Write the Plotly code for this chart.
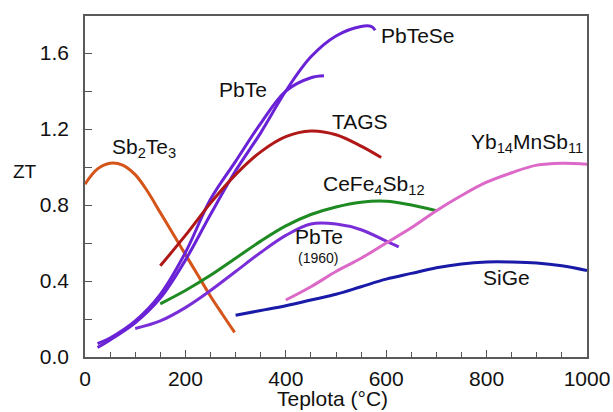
import plotly.graph_objects as go

# ---- data ----
sb2te3_T = [0, 25, 50, 75, 100, 125, 150, 175, 200, 225, 250, 275, 298]
sb2te3_ZT = [0.91, 0.99, 1.02, 1.01, 0.96, 0.87, 0.76, 0.65, 0.54, 0.43, 0.32, 0.22, 0.13]

pbte_T = [25, 50, 100, 150, 200, 250, 300, 350, 400, 450, 476]
pbte_ZT = [0.07, 0.10, 0.19, 0.33, 0.55, 0.83, 1.03, 1.23, 1.40, 1.47, 1.48]

pbtese_T = [25, 50, 100, 150, 200, 250, 300, 350, 400, 450, 500, 550, 570, 578]
pbtese_ZT = [0.05, 0.09, 0.18, 0.31, 0.51, 0.75, 0.98, 1.18, 1.40, 1.58, 1.69, 1.74, 1.74, 1.72]

tags_T = [150, 200, 250, 300, 350, 400, 450, 500, 550, 590]
tags_ZT = [0.48, 0.64, 0.81, 0.96, 1.08, 1.16, 1.19, 1.17, 1.11, 1.05]

cefe_T = [150, 200, 250, 300, 350, 400, 450, 500, 550, 600, 650, 700]
cefe_ZT = [0.28, 0.35, 0.43, 0.52, 0.61, 0.69, 0.75, 0.79, 0.815, 0.82, 0.80, 0.77]

pbte1960_T = [100, 150, 200, 250, 300, 350, 400, 450, 500, 550, 600, 625]
pbte1960_ZT = [0.15, 0.19, 0.26, 0.35, 0.45, 0.55, 0.64, 0.70, 0.70, 0.67, 0.61, 0.58]

yb_T = [400, 450, 500, 550, 600, 650, 700, 750, 800, 850, 900, 950, 1000]
yb_ZT = [0.30, 0.37, 0.45, 0.52, 0.60, 0.68, 0.77, 0.85, 0.92, 0.97, 1.01, 1.02, 1.015]

sige_T = [300, 350, 400, 450, 500, 550, 600, 650, 700, 750, 800, 850, 900, 950, 1000]
sige_ZT = [0.22, 0.245, 0.27, 0.30, 0.33, 0.37, 0.41, 0.44, 0.47, 0.49, 0.50, 0.50, 0.495, 0.48, 0.455]

x_ticks = [0, 200, 400, 600, 800, 1000]
y_ticks = [0.0, 0.4, 0.8, 1.2, 1.6]
y_tick_labels = ["0.0", "0.4", "0.8", "1.2", "1.6"]

PURPLE = "#6a22d6"
series = [
    ("Sb2Te3", sb2te3_T, sb2te3_ZT, "#d4541a"),
    ("PbTeSe", pbtese_T, pbtese_ZT, PURPLE),
    ("PbTe", pbte_T, pbte_ZT, PURPLE),
    ("TAGS", tags_T, tags_ZT, "#b01818"),
    ("CeFe4Sb12", cefe_T, cefe_ZT, "#1e8a22"),
    ("PbTe (1960)", pbte1960_T, pbte1960_ZT, "#7a2ed8"),
    ("Yb14MnSb11", yb_T, yb_ZT, "#dc68c8"),
    ("SiGe", sige_T, sige_ZT, "#1a1aa8"),
]

fig = go.Figure()
for name, xs, ys, col in series:
    fig.add_trace(go.Scatter(x=xs, y=ys, mode="lines", name=name,
                             line=dict(color=col, width=3, shape="spline", smoothing=1.0)))

FONT = "Liberation Sans, Arial, sans-serif"
labels = [
    ("Sb<sub>2</sub>Te<sub>3</sub>", 49, 1.10, 21),
    ("PbTe", 262, 1.41, 21),
    ("PbTeSe", 585, 1.69, 21),
    ("TAGS", 489, 1.242, 21),
    ("CeFe<sub>4</sub>Sb<sub>12</sub>", 471, 0.905, 21),
    ("Yb<sub>14</sub>MnSb<sub>11</sub>", 764, 1.125, 21),
    ("PbTe", 415, 0.634, 21),
    ("(1960)", 421, 0.52, 14),
    ("SiGe", 788, 0.42, 21),
]
for txt, x, y, sz in labels:
    fig.add_annotation(x=x, y=y, text=txt, showarrow=False, xanchor="left", yanchor="middle",
                       font=dict(family=FONT, size=sz, color="#111111"))

fig.add_annotation(x=-0.12, y=0.543, xref="paper", yref="paper", text="ZT", showarrow=False,
                   xanchor="center", yanchor="middle", font=dict(family=FONT, size=19, color="#111111"))
fig.add_annotation(x=0.493, y=-0.123, xref="paper", yref="paper", text="Teplota (°C)", showarrow=False,
                   xanchor="center", yanchor="middle", font=dict(family=FONT, size=21, color="#111111"))

fig.update_layout(
    width=613, height=412,
    margin=dict(l=85, r=26, t=16, b=55),
    paper_bgcolor="white", plot_bgcolor="white",
    showlegend=False,
    font=dict(family=FONT, color="#111111"),
)
fig.update_xaxes(range=[0, 1000], tickvals=x_ticks, ticks="inside", ticklen=7, tickwidth=1.2,
                 tickcolor="#555555", automargin=False, ticklabelstandoff=2, ticklabeloverflow="allow",
                 minor=dict(dtick=50, ticks="inside", ticklen=5, tickcolor="#555555", tickwidth=1.2),
                 showgrid=False, zeroline=False, showline=True, linecolor="#5a5a5a", linewidth=1.5,
                 mirror=True, tickfont=dict(size=21, family=FONT))
fig.update_yaxes(range=[0, 1.795], tickvals=y_ticks, ticktext=y_tick_labels, ticks="inside",
                 ticklen=7, tickwidth=1.2, tickcolor="#555555", automargin=False, ticklabelstandoff=10,
                 minor=dict(tickvals=[0.2, 0.6, 1.0, 1.4], ticks="inside", ticklen=7,
                            tickcolor="#555555", tickwidth=1.2),
                 showgrid=False, zeroline=False, showline=True, linecolor="#5a5a5a", linewidth=1.5,
                 mirror=True, tickfont=dict(size=21, family=FONT))

# remove the browser's default 8px page margin so the 613x412 figure fills the window
fig.write_html("out.html", config={"displayModeBar": False},
               post_script="document.body.style.margin='0';document.body.style.overflow='hidden';")
